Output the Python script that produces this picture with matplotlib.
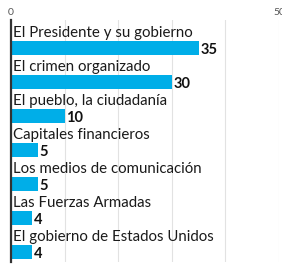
import numpy as np
import matplotlib
matplotlib.use('Agg')
from matplotlib import pyplot as plt

categorias = ['El Presidente y su gobierno', 'El crimen organizado',
              'El pueblo, la ciudadanía', 'Capitales financieros',
              'Los medios de comunicación', 'Las Fuerzas Armadas',
              'El gobierno de Estados Unidos']
valores = [35, 30, 10, 5, 5, 4, 4]
ticks = [0, 10, 20, 30, 40, 50]
tick_labels = ['0', '', '', '', '', '50']

plt.rcParams['font.family'] = ['Lato', 'DejaVu Sans']

fig = plt.figure(figsize=(2.82, 2.79), dpi=100)
ax = fig.add_axes([11/282, 1 - 262/279, 268/282, 242/279])

y = np.arange(len(categorias))
ax.barh(y, valores, height=0.39, color='#00aee8', zorder=2)

for i in range(len(categorias)):
    ax.text(0.3, y[i] - 0.43, categorias[i], fontsize=10.8, color='#1a1a1a',
            va='center', ha='left', zorder=3)
    ax.text(valores[i] + 0.3, y[i] + 0.05, str(valores[i]), fontsize=10.5,
            fontweight='bold', color='#111111', va='center', ha='left', zorder=3)

ax.set_xlim(0, 50)
ax.set_ylim(6.29, -0.82)
ax.set_xticks(ticks)
ax.set_xticklabels(tick_labels)
ax.xaxis.tick_top()
ax.tick_params(axis='x', length=0, labelsize=7.5, labelcolor='#555555', pad=2)
ax.set_yticks([])
ax.grid(axis='x', color='#e2e2e2', linewidth=0.8, zorder=0)

for s in ['top', 'right', 'bottom']:
    ax.spines[s].set_visible(False)
ax.spines['left'].set_color('#333333')
ax.spines['left'].set_linewidth(1.6)

fig.savefig('out.png', dpi=100)
